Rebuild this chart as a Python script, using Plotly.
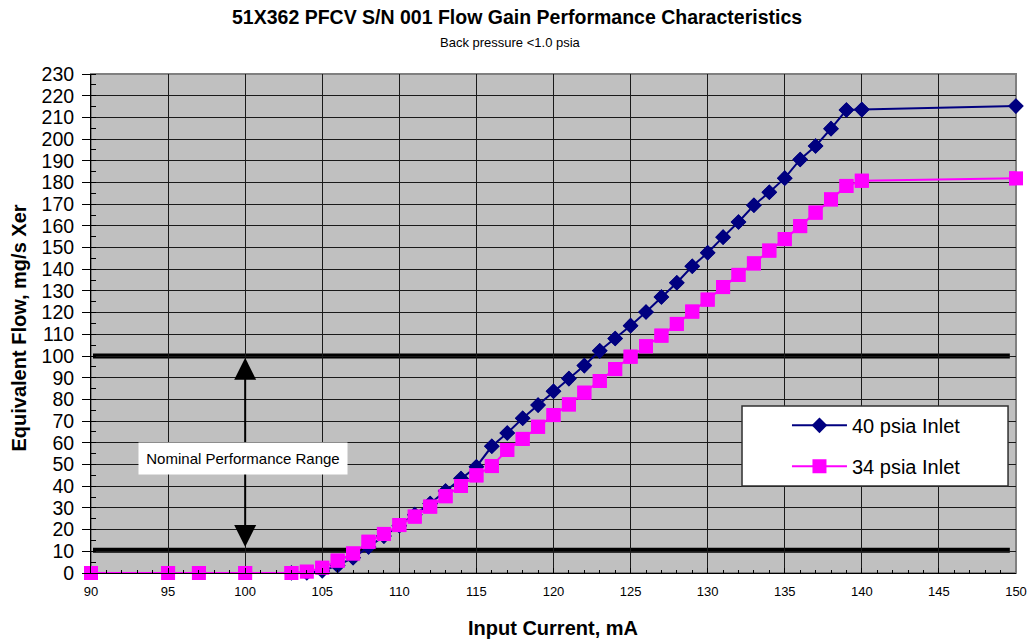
import plotly.graph_objects as go

# ---- data ----
x_40 = [103, 104, 105, 106, 107, 108, 109, 110, 111, 112, 113, 114, 115, 116, 117, 118, 119, 120,
        121, 122, 123, 124, 125, 126, 127, 128, 129, 130, 131, 132, 133, 134, 135, 136, 137, 138,
        139, 140, 150]
y_40 = [0, 0, 0.9, 3.5, 7.0, 12.0, 17.0, 21.8, 26.9, 32.0, 37.8, 43.5, 49.0, 58.4, 64.5, 71.3, 77.4, 83.8,
        89.6, 95.6, 102.4, 108.1, 114.0, 120.3, 127.2, 133.8, 141.4, 147.6, 154.8, 161.8, 169.5, 175.5,
        182.0, 190.6, 196.8, 204.8, 213.4, 213.6, 215.2]

x_34 = [90, 95, 97, 100, 103, 104, 105, 106, 107, 108, 109, 110, 111, 112, 113, 114, 115, 116, 117,
        118, 119, 120, 121, 122, 123, 124, 125, 126, 127, 128, 129, 130, 131, 132, 133, 134, 135, 136,
        137, 138, 139, 140, 150]
y_34 = [0, 0, 0, 0, 0, 0.6, 2.4, 5.7, 9.0, 14.4, 18.0, 22.1, 26.0, 30.6, 35.4, 40.1, 45.0, 49.3, 56.7,
        61.8, 67.4, 72.8, 77.7, 83.1, 88.5, 94.0, 99.7, 104.5, 109.4, 114.8, 120.5, 126.0, 131.8, 137.4,
        142.7, 148.6, 153.9, 159.9, 166.1, 172.2, 178.4, 180.8, 181.9]

range_upper = 100
range_lower = 10.5

FONT = "Liberation Sans, Arial, sans-serif"
BLUE = "#000080"
MAGENTA = "#FF00FF"

fig = go.Figure()
series = [
    (x_40, y_40, "40 psia Inlet", BLUE, "diamond", 12, "a"),
    (x_34, y_34, "34 psia Inlet", MAGENTA, "square", 14, "b"),
]
for xs, ys, name, col, sym, size, grp in series:
    # line (clipped to plot area) + legend entry
    fig.add_trace(go.Scatter(
        x=xs, y=ys, mode="lines+markers", name=name, legendgroup=grp,
        line=dict(color=col, width=2),
        marker=dict(symbol=sym, size=size, color=col),
        cliponaxis=True,
    ))
    # markers (unclipped, like the original)
    fig.add_trace(go.Scatter(
        x=xs, y=ys, mode="markers", name=name, legendgroup=grp, showlegend=False,
        marker=dict(symbol=sym, size=size, color=col),
        cliponaxis=False, hoverinfo="skip",
    ))

# plot border (gray)
fig.add_shape(type="rect", xref="paper", yref="paper", x0=0, x1=1, y0=0, y1=1,
              line=dict(color="#808080", width=2), layer="below")
# thick range lines
for yv in (range_upper, range_lower):
    fig.add_shape(type="line", xref="x", yref="y", x0=90.13, x1=149.6, y0=yv, y1=yv,
                  line=dict(color="black", width=5), layer="below")

# legend box
fig.add_shape(type="rect", xref="paper", yref="paper", x0=0.7038, x1=0.9914, y0=0.1743, y1=0.3347,
              line=dict(color="#303030", width=1.5), fillcolor="white", layer="above")

# double-headed arrow
fig.add_annotation(x=100, y=range_upper - 0.8, ax=100, ay=range_lower + 0.8,
                   xref="x", yref="y", axref="x", ayref="y",
                   showarrow=True, arrowhead=2, startarrowhead=2, arrowside="end+start",
                   arrowsize=2.2, startarrowsize=2.2, arrowwidth=2, arrowcolor="black", text="")
# label box
fig.add_annotation(x=99.85, y=52.8, xref="x", yref="y", text="Nominal Performance Range",
                   showarrow=False, bgcolor="white", font=dict(family=FONT, size=15, color="black"),
                   width=208, height=31, borderpad=0, xanchor="center", yanchor="middle")

# titles
fig.add_annotation(x=0.4605, y=1.114, xref="paper", yref="paper", showarrow=False,
                   xanchor="center", yanchor="middle",
                   text="<b>51X362 PFCV S/N 001 Flow Gain Performance Characteristics</b>",
                   font=dict(family=FONT, size=19.5, color="black"))
fig.add_annotation(x=0.453, y=1.063, xref="paper", yref="paper", showarrow=False,
                   xanchor="center", yanchor="middle",
                   text="Back pressure <1.0 psia",
                   font=dict(family=FONT, size=13, color="black"))
fig.add_annotation(x=-0.0778, y=0.49, xref="paper", yref="paper", showarrow=False, textangle=-90,
                   xanchor="center", yanchor="middle",
                   text="<b>Equivalent Flow, mg/s Xer</b>",
                   font=dict(family=FONT, size=20, color="black"))
fig.add_annotation(x=0.4995, y=-0.111, xref="paper", yref="paper", showarrow=False,
                   xanchor="center", yanchor="middle",
                   text="<b>Input Current, mA</b>",
                   font=dict(family=FONT, size=20, color="black"))

fig.update_layout(
    width=1034, height=642,
    margin=dict(l=91, r=18, t=74, b=69),
    paper_bgcolor="white", plot_bgcolor="#C0C0C0",
    font=dict(family=FONT, color="black"),
    showlegend=True,
    legend=dict(x=0.7524, y=0.335, xanchor="left", yanchor="top",
                bgcolor="rgba(0,0,0,0)", borderwidth=0,
                font=dict(family=FONT, size=20, color="black"),
                traceorder="grouped", tracegroupgap=12, itemwidth=55),
)
fig.update_xaxes(range=[90, 150], dtick=5, tick0=90, showgrid=True, gridcolor="#1a1a1a", gridwidth=1,
                 zeroline=False, showline=True, linecolor="black", linewidth=1, automargin=False,
                 ticks="inside", ticklen=5, tickcolor="black", ticklabelstandoff=6,
                 minor=dict(dtick=1, ticks="inside", ticklen=3, tickcolor="black", showgrid=False),
                 tickfont=dict(family=FONT, size=13, color="black"))
fig.update_yaxes(range=[0, 230], dtick=10, tick0=0, showgrid=True, gridcolor="#1a1a1a", gridwidth=1,
                 zeroline=False, showline=True, linecolor="black", linewidth=1, automargin=False,
                 ticks="outside", ticklen=8, tickcolor="black", ticklabelstandoff=4,
                 minor=dict(dtick=5, ticks="inside", ticklen=5, tickcolor="black", showgrid=False),
                 tickfont=dict(family=FONT, size=19.5, color="black"))

fig.write_html("out.html")
